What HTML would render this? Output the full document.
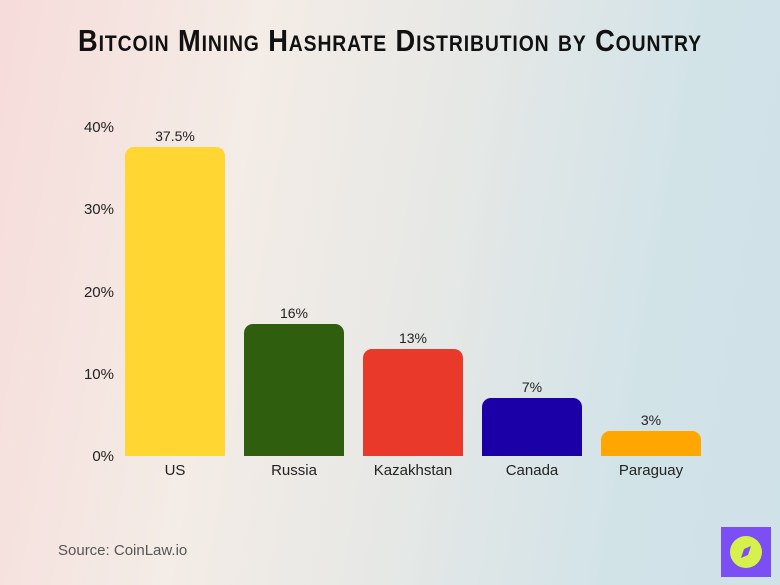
<!DOCTYPE html>
<html><head><style>
body{margin:0;width:780px;height:585px;overflow:hidden;font-family:"Liberation Sans",sans-serif;}
#bg{position:absolute;left:0;top:0;width:780px;height:585px;background:linear-gradient(100deg,#f6dcdb 0%,#f4ece6 30%,#e6e8e6 55%,#d2e3e8 80%,#cfe2e8 100%);}
.t{position:absolute;white-space:nowrap;color:#222;}
.bar{position:absolute;width:100px;border-radius:9px 9px 0 0;}
.yl{position:absolute;left:62px;width:52px;text-align:right;font-size:15px;color:#222;}
.xl{position:absolute;width:140px;text-align:center;font-size:15px;color:#222;top:462px;}
.vl{position:absolute;width:100px;text-align:center;font-size:14px;color:#222;}
</style></head><body>
<div id="bg"></div>
<div class="t" style="left:390px;top:23px;transform:translateX(-50%) scaleX(0.88);transform-origin:center;font-family:'Liberation Sans Narrow','Liberation Sans',sans-serif;font-weight:bold;font-size:31px;font-variant:small-caps;letter-spacing:1px;color:#111;">Bitcoin Mining Hashrate Distribution by Country</div>
<div class="yl" style="top:119px">40%</div>
<div class="yl" style="top:201px">30%</div>
<div class="yl" style="top:284px">20%</div>
<div class="yl" style="top:366px">10%</div>
<div class="yl" style="top:448px">0%</div>
<div class="bar" style="left:125px;top:147px;height:309px;background:#ffd632"></div>
<div class="bar" style="left:244px;top:324px;height:132px;background:#2f5e0f"></div>
<div class="bar" style="left:363px;top:349px;height:107px;background:#e8392a"></div>
<div class="bar" style="left:482px;top:398px;height:58px;background:#1a00a6"></div>
<div class="bar" style="left:601px;top:431px;height:25px;background:#ffa600"></div>
<div class="vl" style="left:125px;top:128px">37.5%</div>
<div class="vl" style="left:244px;top:305px">16%</div>
<div class="vl" style="left:363px;top:330px">13%</div>
<div class="vl" style="left:482px;top:379px">7%</div>
<div class="vl" style="left:601px;top:412px">3%</div>
<div class="xl" style="left:105px">US</div>
<div class="xl" style="left:224px">Russia</div>
<div class="xl" style="left:343px">Kazakhstan</div>
<div class="xl" style="left:462px">Canada</div>
<div class="xl" style="left:581px">Paraguay</div>
<div class="t" style="left:58px;top:542px;font-size:15px;color:#555;">Source: CoinLaw.io</div>
<div style="position:absolute;left:721px;top:527px;width:50px;height:50px;background:#7b4ff4;"></div>
<div style="position:absolute;left:730px;top:536px;width:32px;height:32px;border-radius:50%;background:#d6f04c;"></div>
<svg style="position:absolute;left:730px;top:536px" width="32" height="32"><polygon points="21,10 18,19 11,22 14,13" fill="#7b4ff4"/></svg>
</body></html>
